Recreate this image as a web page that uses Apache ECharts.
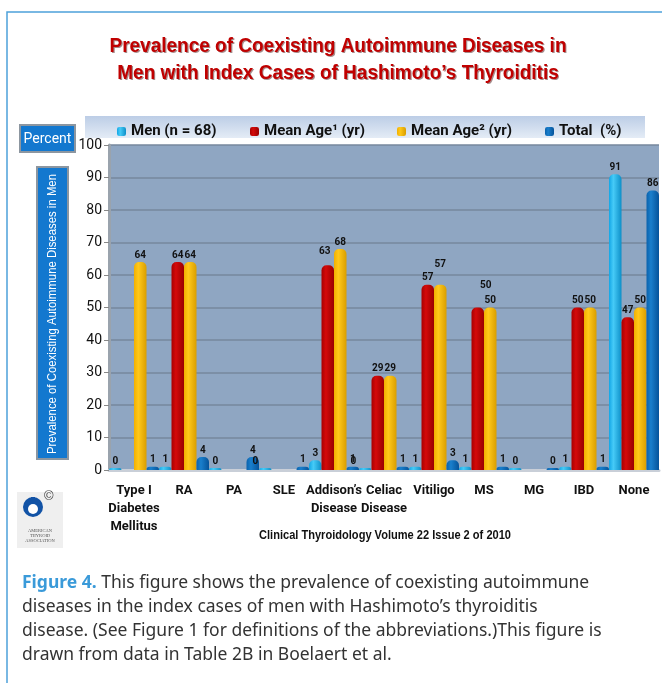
<!DOCTYPE html>
<html>
<head>
<meta charset="utf-8">
<script src="https://cdn.jsdelivr.net/npm/echarts@6/dist/echarts.min.js"></script>
<style>
  html, body { margin: 0; padding: 0; background: #fff; }
  #main { width: 662px; height: 683px; }
</style>
</head>
<body>
<div id="main"></div>
<script>
const categories = ['Type I\nDiabetes\nMellitus', 'RA', 'PA', 'SLE', 'Addison\u2019s\nDisease', 'Celiac\nDisease', 'Vitiligo', 'MS', 'MG', 'IBD', 'None'];
const men = [0, 1, 0, 0, 3, 0, 1, 1, 0, 1, 91];
const meanAge1 = [null, 64, null, null, 63, 29, 57, 50, null, 50, 47];
const meanAge2 = [64, 64, null, null, 68, 29, 57, 50, null, 50, 50];
const total = [1, 4, 4, 1, 1, 1, 3, 1, 0, 1, 86];
const yTicks = [0, 10, 20, 30, 40, 50, 60, 70, 80, 90, 100];

const narrow = "Roboto, 'Liberation Sans', sans-serif";
const wide = "'Liberation Sans', Arial, sans-serif";

// a few labels sit off their bar in the original
const labelShift = {
  men: { 3: [-10, 0], 5: [-12, 0] },
  red: { 4: [-3, -7], 7: [8, -15] },
  yellow: { 6: [0, -13] }
};

// squeeze text to the width it takes in the original (Arial Narrow is not installed)
const ctx = document.createElement('canvas').getContext('2d');
function squeeze(text, font, target) {
  ctx.font = font;
  return target / ctx.measureText(text).width;
}

function cyl(c1, c2, c3) {
  return new echarts.graphic.LinearGradient(0, 0, 1, 0, [
    { offset: 0, color: c1 },
    { offset: 0.35, color: c2 },
    { offset: 1, color: c3 }
  ]);
}

function items(arr, key) {
  const shifts = labelShift[key] || {};
  return arr.map((v, i) => {
    if (shifts[i]) return { value: v, label: { offset: shifts[i] } };
    return v;
  });
}

const labelStyle = {
  show: true,
  position: 'top',
  distance: 2,
  color: '#111',
  fontSize: 10,
  fontWeight: 'bold',
  fontFamily: narrow
};

const title1 = 'Prevalence of Coexisting Autoimmune Diseases in';
const title2 = 'Men with Index Cases of Hashimoto\u2019s Thyroiditis';
const titleScale = squeeze(title1, 'bold 20px ' + wide, 457);
const yName = 'Prevalence of Coexisting Autoimmune Diseases in Men';
const yNameScale = squeeze(yName, '12px ' + wide, 280);
const srcText = 'Clinical Thyroidology Volume 22 Issue 2 of 2010';
const srcScale = squeeze(srcText, 'bold 12px ' + wide, 252);

function titleText(dx, dy, fill) {
  return {
    type: 'text',
    x: 338 + dx,
    y: 60 + dy,
    scaleX: titleScale,
    style: {
      text: title1 + '\n' + title2,
      fill: fill,
      fontSize: 20,
      fontWeight: 'bold',
      fontFamily: wide,
      lineHeight: 27,
      align: 'center',
      verticalAlign: 'middle'
    }
  };
}

const chart = echarts.init(document.getElementById('main'));

const option = {
  backgroundColor: '#ffffff',
  animation: false,
  legend: [
    { name: 'Men (n = 68)', left: 112 },
    { name: 'Mean Age\u00b9 (yr)', left: 245 },
    { name: 'Mean Age\u00b2 (yr)', left: 392 },
    { name: 'Total  (%)', left: 540 }
  ].map(l => ({
    data: [l.name],
    left: l.left,
    top: 119,
    itemWidth: 9,
    itemHeight: 9,
    itemGap: 6,
    textStyle: { fontSize: 15, fontWeight: 'bold', color: '#111', fontFamily: narrow }
  })),
  grid: { left: 109, right: 3, top: 145, bottom: 213, backgroundColor: '#8fa6c2', show: true, borderWidth: 0 },
  xAxis: {
    type: 'category',
    data: categories,
    axisTick: { show: false },
    axisLine: { lineStyle: { color: '#c9cfd8', width: 3 } },
    axisLabel: {
      interval: 0,
      margin: 12,
      color: '#111',
      fontSize: 13,
      fontWeight: 'bold',
      fontFamily: narrow,
      lineHeight: 18,
      verticalAlign: 'top'
    }
  },
  yAxis: {
    type: 'value',
    min: yTicks[0],
    max: yTicks[yTicks.length - 1],
    interval: 10,
    axisLine: { show: true, lineStyle: { color: '#9aa3ad', width: 3 } },
    axisTick: { show: true, length: 5, lineStyle: { color: '#888' } },
    axisLabel: { color: '#111', fontSize: 14, fontFamily: narrow, margin: 7 },
    splitLine: { lineStyle: { color: '#76879d', width: 1.5 } }
  },
  series: [
    {
      name: 'Men (n = 68)',
      type: 'bar',
      data: items(men, 'men'),
      barGap: '0%',
      barCategoryGap: '0%',
      barMinHeight: 2,
      itemStyle: { color: cyl('#12a6e6', '#46cbf7', '#0d8fc8'), borderRadius: [5, 5, 0, 0] },
      label: labelStyle
    },
    {
      name: 'Mean Age\u00b9 (yr)',
      type: 'bar',
      data: items(meanAge1, 'red'),
      itemStyle: { color: cyl('#a80000', '#d40a0a', '#9a0000'), borderRadius: [5, 5, 0, 0] },
      label: labelStyle
    },
    {
      name: 'Mean Age\u00b2 (yr)',
      type: 'bar',
      data: items(meanAge2, 'yellow'),
      itemStyle: { color: cyl('#f2b000', '#ffc81a', '#d99e00'), borderRadius: [5, 5, 0, 0] },
      label: labelStyle
    },
    {
      name: 'Total  (%)',
      type: 'bar',
      data: items(total, 'total'),
      barMinHeight: 2,
      itemStyle: { color: cyl('#0a62ad', '#1a7fcc', '#05539a'), borderRadius: [5, 5, 0, 0] },
      label: labelStyle
    }
  ],
  graphic: [
    // page frame
    {
      type: 'polyline',
      shape: { points: [[7, 683], [7, 12], [662, 12]] },
      style: { stroke: '#4da1da', lineWidth: 1.5, fill: null },
      z: -1
    },
    // title with a soft drop shadow
    titleText(1.2, 1.2, 'rgba(60,0,0,0.45)'),
    titleText(0, 0, '#c00000'),
    // legend band
    {
      type: 'rect',
      shape: { x: 85, y: 116, width: 560, height: 22 },
      style: {
        fill: new echarts.graphic.LinearGradient(0, 0, 0, 1, [
          { offset: 0, color: '#bccde6' },
          { offset: 1, color: '#e4ecf6' }
        ])
      },
      z: -1
    },
    // Percent box
    {
      type: 'rect',
      shape: { x: 20, y: 125, width: 55, height: 27 },
      style: { fill: '#1378cf', stroke: '#8c96a0', lineWidth: 2 },
      z: 5
    },
    {
      type: 'text',
      x: 47.5,
      y: 139,
      style: { text: 'Percent', fill: '#fff', fontSize: 14, fontFamily: narrow, align: 'center', verticalAlign: 'middle' },
      z: 6
    },
    // y axis name box
    {
      type: 'rect',
      shape: { x: 37, y: 167, width: 31, height: 292 },
      style: { fill: '#1378cf', stroke: '#8c96a0', lineWidth: 2 },
      z: 5
    },
    {
      type: 'text',
      x: 53,
      y: 314,
      rotation: Math.PI / 2,
      scaleX: yNameScale,
      style: {
        text: yName,
        fill: '#fff',
        fontSize: 12,
        fontFamily: wide,
        align: 'center',
        verticalAlign: 'middle'
      },
      z: 6
    },
    // logo
    {
      type: 'group',
      children: [
        { type: 'rect', shape: { x: 17, y: 492, width: 46, height: 56 }, style: { fill: '#efefef' } },
        { type: 'circle', shape: { cx: 33, cy: 507, r: 10 }, style: { fill: '#1253a6' } },
        { type: 'circle', shape: { cx: 33, cy: 509, r: 5 }, style: { fill: '#ffffff' } },
        { type: 'rect', shape: { x: 31, y: 497, width: 4, height: 7 }, style: { fill: '#1253a6' } },
        { type: 'text', left: 44, top: 490, style: { text: '\u00a9', fill: '#444', fontSize: 13 } },
        {
          type: 'text', x: 40, y: 528,
          style: { text: 'AMERICAN\nTHYROID\nASSOCIATION', fill: '#555', fontSize: 4.5, fontFamily: 'serif', align: 'center', lineHeight: 5 }
        }
      ]
    },
    // source line
    {
      type: 'text',
      x: 385,
      y: 536,
      scaleX: srcScale,
      style: {
        text: srcText,
        fill: '#111',
        fontSize: 12,
        fontWeight: 'bold',
        fontFamily: wide,
        align: 'center',
        verticalAlign: 'middle'
      }
    },
    // caption
    {
      type: 'text',
      left: 22,
      top: 571,
      style: {
        text: '{b|Figure 4.} This figure shows the prevalence of coexisting autoimmune\ndiseases in the index cases of men with Hashimoto\u2019s thyroiditis\ndisease. (See Figure 1 for definitions of the abbreviations.)This figure is\ndrawn from data in Table 2B in Boelaert et al.',
        fill: '#333',
        fontSize: 17.5,
        lineHeight: 24,
        fontFamily: "'Noto Sans', 'Liberation Sans', sans-serif",
        rich: {
          b: { fill: '#3a9ad9', fontWeight: 'bold', fontSize: 17.5, fontFamily: "'Noto Sans', 'Liberation Sans', sans-serif" }
        }
      }
    }
  ]
};

chart.setOption(option);
</script>
</body>
</html>
